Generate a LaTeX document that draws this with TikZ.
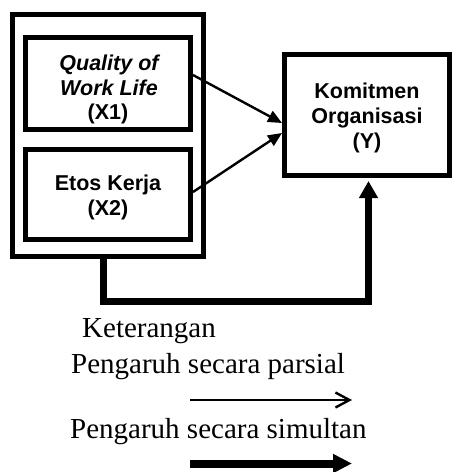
\documentclass[tikz,border=0pt]{standalone}
\usepackage{fontspec}
\setmainfont{Liberation Serif}
\newfontfamily\boxfont{Liberation Sans}
\usetikzlibrary{arrows.meta}
\tikzset{
  frame/.style={draw=black, line width=5pt, inner sep=0pt, fill=none},
  boxtext/.style={inner sep=0pt, anchor=base, font=\boxfont\bfseries\fontsize{21.5}{25}\selectfont},
  legtext/.style={inner sep=0pt, anchor=base west, font=\fontsize{29}{34}\selectfont},
  partial/.style={draw=black, line width=2.4pt, -{Triangle[length=14pt,width=12pt]}},
  simul/.style={draw=black, line width=7pt, -{Triangle[length=17pt,width=18pt]}},
  legpartial/.style={draw=black, line width=2.4pt, -{Straight Barb[length=14pt,width=15pt,line width=2.4pt]}},
  legsimul/.style={draw=black, line width=8pt, -{Triangle[length=19pt,width=18pt]}},
}
\begin{document}
\begin{tikzpicture}[x=1pt,y=-1pt]
\useasboundingbox[fill=white] (0,0) rectangle (452,472);
% boxes
\node[frame, minimum width=191pt, minimum height=242pt] (outer) at (107.5,135.5) {};
\node[frame, minimum width=165pt, minimum height=92pt] (x1) at (108,83.5) {};
\node[frame, minimum width=165pt, minimum height=90pt] (x2) at (108,194.5) {};
\node[frame, minimum width=165pt, minimum height=121pt] (y) at (367,115) {};
% box texts
\node[boxtext] (x1a) at (109,70) {\itshape Quality of};
\node[boxtext] (x1b) at (109,95) {\itshape Work Life};
\node[boxtext] (x1c) at (108,119) {(X1)};
\node[boxtext] (x2a) at (108,190) {Etos Kerja};
\node[boxtext] (x2b) at (108,215) {(X2)};
\node[boxtext] (ya) at (367,98) {Komitmen};
\node[boxtext] (yb) at (367,123) {Organisasi};
\node[boxtext] (yc) at (367,148) {(Y)};
% connectors
\draw[partial] ([yshift=8.5pt]x1.east) -- ([yshift=-8pt]y.west);
\draw[partial] ([yshift=2.5pt]x2.east) -- ([yshift=-18pt]y.west);
\draw[simul] ([xshift=-4pt,yshift=2pt]outer.south) -- ++(0,44.5) -| ([xshift=1.5pt,yshift=-3pt]y.south);
% legend
\node[legtext] (ket) at (82,337) {Keterangan};
\node[legtext] (par) at (71,373) {Pengaruh secara parsial};
\node[legtext] (sim) at (70,438) {Pengaruh secara simultan};
\coordinate (pa) at (190,400);
\coordinate (pb) at (352,400);
\coordinate (sa) at (190,463.5);
\coordinate (sb) at (352,463.5);
\draw[legpartial] (pa) -- (pb);
\draw[legsimul] (sa) -- (sb);
\end{tikzpicture}
\end{document}
